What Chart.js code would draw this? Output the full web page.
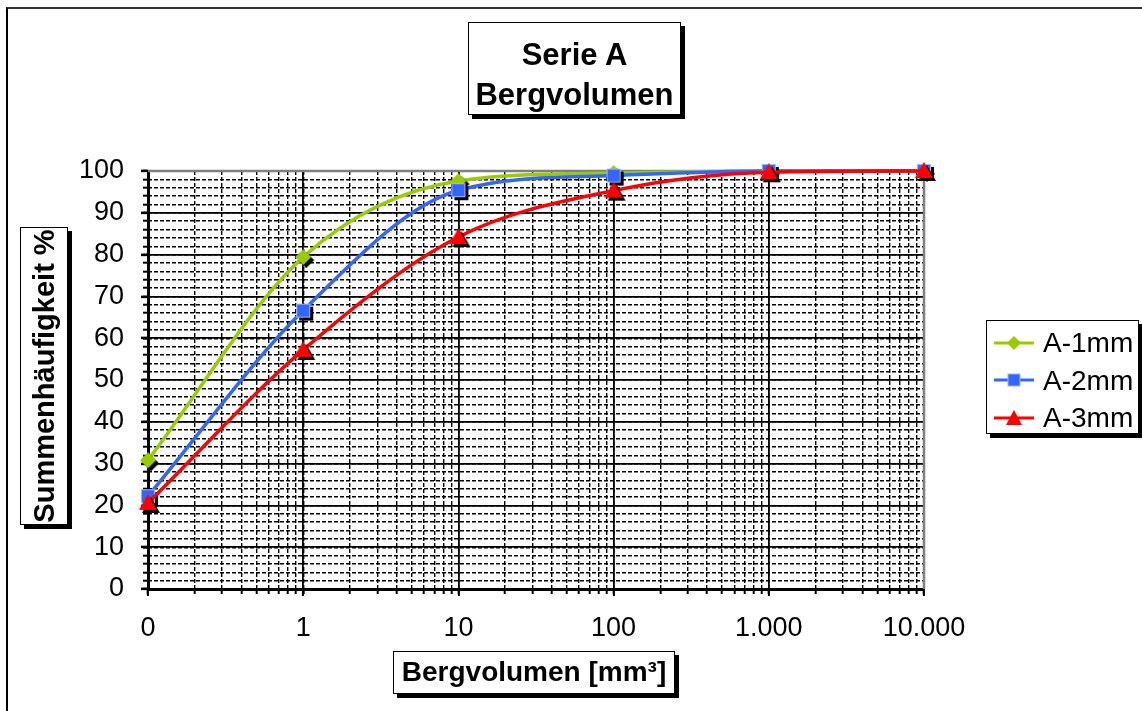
<!DOCTYPE html>
<html>
<head>
<meta charset="utf-8">
<script src="https://cdn.jsdelivr.net/npm/chart.js@4"></script>
<style>
  body { margin: 0; background: #fff; font-family: Arial, "Liberation Sans", sans-serif; }
  #wrap { position: relative; width: 1142px; height: 711px; overflow: hidden; }
  #chart { position: absolute; left: 0; top: 0; }
  .frame { position: absolute; left: 6px; top: 7px; width: 1200px; height: 800px;
           border-left: 2px solid #000; border-top: 2px solid #333; }
  .box { position: absolute; background: #fff; border: 1.5px solid #000; box-shadow: 4px 4px 0 #000;
         color: #000; text-align: center; box-sizing: border-box; }
  #title { left: 468px; top: 22px; width: 213px; height: 93px; font-weight: bold;
           font-size: 31px; line-height: 40px; padding-top: 12px; }
  #ytitle { left: 20px; top: 227px; width: 48px; height: 298px; font-weight: bold; font-size: 29px; }
  #ytitle span { position: absolute; left: 50%; top: 50%; white-space: nowrap;
                 transform: translate(-50%, -50%) rotate(-90deg); }
  #xtitle { left: 393px; top: 651px; width: 282px; height: 43px; font-weight: bold;
            font-size: 28px; line-height: 40px; }
  #legend { left: 986px; top: 320px; width: 153px; height: 114px; font-size: 28px; text-align: left;
            padding-top: 3px; }
  #legend .row { height: 37.5px; line-height: 37.5px; white-space: nowrap; }
  #legend svg { vertical-align: middle; margin-left: 7px; margin-right: 9px; position: relative; top: -2px; }
</style>
</head>
<body>
<div id="wrap">
  <div class="frame"></div>
  <canvas id="chart" width="1142" height="711"></canvas>
  <div class="box" id="title">Serie A<br>Bergvolumen</div>
  <div class="box" id="ytitle"><span>Summenhäufigkeit %</span></div>
  <div class="box" id="xtitle">Bergvolumen [mm³]</div>
  <div class="box" id="legend"></div>
</div>
<script>
// Data (x axis is logarithmic, first point sits at the "0" label)
const xValues = [0.1, 1, 10, 100, 1000, 10000];
const xTickValues = [0.1, 1, 10, 100, 1000, 10000];
const xTickLabels = ['0', '1', '10', '100', '1.000', '10.000'];

const a1mm = [30.8, 79.4, 97.6, 99.5, 100, 100];
const a2mm = [22.2, 66.6, 95.4, 98.9, 100, 100];
const a3mm = [20.6, 57.2, 84.2, 95.3, 99.7, 100];

const seriesNames = ['A-1mm', 'A-2mm', 'A-3mm'];
const seriesValues = [a1mm, a2mm, a3mm];
const seriesColors = ['#99CC00', '#3366FF', '#FF0000'];
const seriesShapes = ['diamond', 'square', 'triangle'];

// Marker with the black drop shadow like in Excel
const makeMarker = (shape, color) => {
    const c = document.createElement('canvas');
    c.width = 28; c.height = 28;
    const ctx = c.getContext('2d');
    const drawShape = (cx, cy, fill) => {
        ctx.fillStyle = fill;
        ctx.beginPath();
        if (shape === 'diamond') {
            ctx.moveTo(cx, cy - 8); ctx.lineTo(cx + 8, cy); ctx.lineTo(cx, cy + 8); ctx.lineTo(cx - 8, cy);
        } else if (shape === 'square') {
            ctx.rect(cx - 7, cy - 7, 14, 14);
        } else {
            ctx.moveTo(cx, cy - 9); ctx.lineTo(cx + 9, cy + 7); ctx.lineTo(cx - 9, cy + 7);
        }
        ctx.closePath();
        ctx.fill();
    };
    drawShape(17, 17, '#000');
    drawShape(14, 14, color);
    if (shape === 'square') {
        ctx.strokeStyle = '#9db8ff';
        ctx.lineWidth = 1;
        ctx.strokeRect(7.5, 7.5, 13, 13);
    }
    return c;
};

// Legend (line + marker like Excel)
const legendIcon = (shape, color) => {
    let m = '';
    if (shape === 'diamond') m = `<polygon points="20,3 27,10 20,17 13,10" fill="${color}"/>`;
    else if (shape === 'square') m = `<rect x="14" y="4" width="12" height="12" fill="${color}" stroke="#9db8ff" stroke-width="1"/>`;
    else m = `<polygon points="20,2 28,17 12,17" fill="${color}"/>`;
    return `<svg width="40" height="20"><line x1="0" y1="10" x2="40" y2="10" stroke="${color}" stroke-width="3"/>${m}</svg>`;
};
document.getElementById('legend').innerHTML = seriesNames.map((n, i) =>
    `<div class="row">${legendIcon(seriesShapes[i], seriesColors[i])}${n}</div>`).join('');

// Gray top/right border of the plot area
const plotFrame = {
    id: 'plotFrame',
    beforeDatasetsDraw(chart) {
        const {ctx, chartArea: a} = chart;
        ctx.save();
        ctx.strokeStyle = '#808080';
        ctx.lineWidth = 2.5;
        ctx.beginPath();
        ctx.moveTo(a.left, a.top);
        ctx.lineTo(a.right, a.top);
        ctx.lineTo(a.right, a.bottom);
        ctx.stroke();
        ctx.restore();
    }
};

const minorLogTicks = () => {
    let ticks = [];
    [0.1, 1, 10, 100, 1000].forEach(d => {
        for (let m = 1; m < 10; m++) ticks.push({value: d * m});
    });
    ticks.push({value: 10000});
    return ticks;
};

const tickFont = {family: 'Arial, "Liberation Sans", sans-serif', size: 27};

const config = {
    type: 'line',
    data: {
        datasets: seriesNames.map((name, i) => ({
            label: name,
            data: xValues.map((x, j) => ({x: x, y: seriesValues[i][j]})),
            borderColor: seriesColors[i],
            backgroundColor: seriesColors[i],
            borderWidth: 3.5,
            pointStyle: makeMarker(seriesShapes[i], seriesColors[i]),
            pointRadius: 8,
            cubicInterpolationMode: 'monotone',
            clip: false,
            order: 3 - i
        }))
    },
    options: {
        responsive: false,
        animation: false,
        layout: {padding: {top: 171, right: 218, left: 0, bottom: 0}},
        plugins: {legend: {display: false}, tooltip: {enabled: false}},
        scales: {
            x: {
                type: 'logarithmic', min: 0.1, max: 10000, position: 'bottom', weight: 1,
                afterBuildTicks: s => { s.ticks = xTickValues.map(v => ({value: v})); },
                afterFit: s => { s.height = 122; },
                ticks: {
                    autoSkip: false, maxRotation: 0, color: '#000', font: tickFont, padding: 16,
                    callback: (v, i) => xTickLabels[i]
                },
                grid: {color: '#000', lineWidth: 1.8, tickLength: 7, tickWidth: 2, tickColor: '#000'},
                border: {color: '#000', width: 3}
            },
            xMinor: {
                type: 'logarithmic', min: 0.1, max: 10000, position: 'bottom', weight: 0,
                afterBuildTicks: s => { s.ticks = minorLogTicks(); },
                afterFit: s => { s.height = 0; },
                ticks: {display: false},
                grid: {color: '#000', lineWidth: 1.4, tickLength: 5, tickWidth: 2, tickColor: '#000'},
                border: {display: false, dash: [4, 2]}
            },
            y: {
                min: 0, max: 100, position: 'left', weight: 1,
                afterFit: s => { s.width = 148; },
                ticks: {stepSize: 10, color: '#000', font: tickFont, padding: 17},
                grid: {color: '#000', lineWidth: 1.8, tickLength: 7, tickWidth: 2.5, tickColor: '#000'},
                border: {color: '#000', width: 3}
            },
            yMinor: {
                min: 0, max: 100, position: 'left', weight: 0,
                afterFit: s => { s.width = 0; },
                ticks: {stepSize: 2, display: false},
                grid: {color: '#000', lineWidth: 1.4, tickLength: 5, tickWidth: 2, tickColor: '#000'},
                border: {display: false, dash: [4, 2]}
            }
        }
    },
    plugins: [plotFrame]
};

const chart = new Chart(document.getElementById('chart'), config);
</script>
</body>
</html>
